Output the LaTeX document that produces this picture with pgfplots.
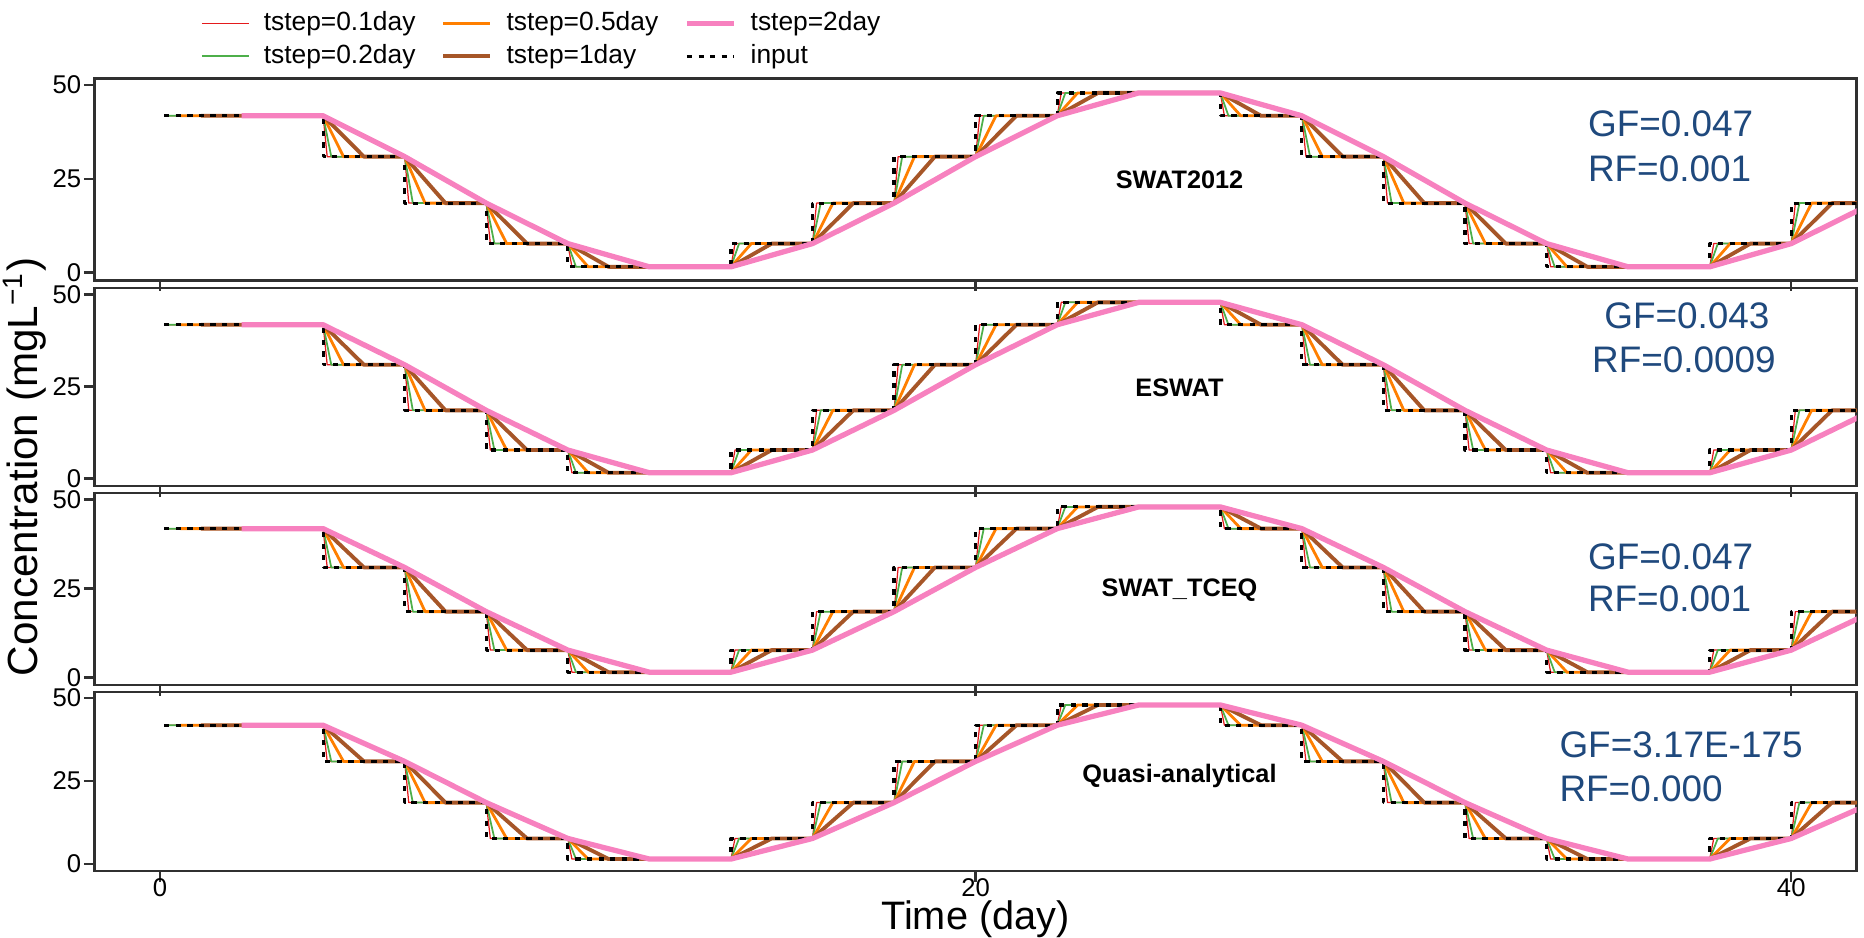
\documentclass[border=0pt]{standalone}
\usepackage{pgfplots}
\pgfplotsset{compat=1.18}
\usepackage{pgfplotstable}
\usepackage{fontspec}
\setmainfont{Liberation Sans}
\definecolor{cRed}{HTML}{E41A1C}
\definecolor{cGreen}{HTML}{4DAF4A}
\definecolor{cOrange}{HTML}{FF7F00}
\definecolor{cBrown}{HTML}{A65628}
\definecolor{cPink}{HTML}{F781BF}
\definecolor{cBlue}{HTML}{1F497D}
\definecolor{frm}{HTML}{303030}

\pgfplotstableread{
t c
0.1 41.8
4 41.8
4 30.9
6 30.9
6 18.5
8 18.5
8 7.7
10 7.7
10 1.5
14 1.5
14 7.7
16 7.7
16 18.5
18 18.5
18 30.9
20 30.9
20 41.8
22 41.8
22 47.9
26 47.9
26 41.8
28 41.8
28 30.9
30 30.9
30 18.5
32 18.5
32 7.7
34 7.7
34 1.5
38 1.5
38 7.7
40 7.7
40 18.5
41.6 18.5
}\tinput

\pgfplotstableread{
t c
0.1 41.8
4 41.8
4.1 30.9
6 30.9
6.1 18.5
8 18.5
8.1 7.7
10 7.7
10.1 1.5
14 1.5
14.1 7.7
16 7.7
16.1 18.5
18 18.5
18.1 30.9
20 30.9
20.1 41.8
22 41.8
22.1 47.9
26 47.9
26.1 41.8
28 41.8
28.1 30.9
30 30.9
30.1 18.5
32 18.5
32.1 7.7
34 7.7
34.1 1.5
38 1.5
38.1 7.7
40 7.7
40.1 18.5
41.6 18.5
}\tA

\pgfplotstableread{
t c
0.2 41.8
4 41.8
4.2 30.9
6 30.9
6.2 18.5
8 18.5
8.2 7.7
10 7.7
10.2 1.5
14 1.5
14.2 7.7
16 7.7
16.2 18.5
18 18.5
18.2 30.9
20 30.9
20.2 41.8
22 41.8
22.2 47.9
26 47.9
26.2 41.8
28 41.8
28.2 30.9
30 30.9
30.2 18.5
32 18.5
32.2 7.7
34 7.7
34.2 1.5
38 1.5
38.2 7.7
40 7.7
40.2 18.5
41.6 18.5
}\tB

\pgfplotstableread{
t c
0.5 41.8
4 41.8
4.5 30.9
6 30.9
6.5 18.5
8 18.5
8.5 7.7
10 7.7
10.5 1.5
14 1.5
14.5 7.7
16 7.7
16.5 18.5
18 18.5
18.5 30.9
20 30.9
20.5 41.8
22 41.8
22.5 47.9
26 47.9
26.5 41.8
28 41.8
28.5 30.9
30 30.9
30.5 18.5
32 18.5
32.5 7.7
34 7.7
34.5 1.5
38 1.5
38.5 7.7
40 7.7
40.5 18.5
41.6 18.5
}\tC

\pgfplotstableread{
t c
1 41.8
4 41.8
5 30.9
6 30.9
7 18.5
8 18.5
9 7.7
10 7.7
11 1.5
14 1.5
15 7.7
16 7.7
17 18.5
18 18.5
19 30.9
20 30.9
21 41.8
22 41.8
23 47.9
26 47.9
27 41.8
28 41.8
29 30.9
30 30.9
31 18.5
32 18.5
33 7.7
34 7.7
35 1.5
38 1.5
39 7.7
40 7.7
41 18.5
41.6 18.5
}\tD

\pgfplotstableread{
t c
2 41.8
4 41.8
6 30.9
8 18.5
10 7.7
12 1.5
14 1.5
16 7.7
18 18.5
20 30.9
22 41.8
24 47.9
26 47.9
28 41.8
30 30.9
32 18.5
34 7.7
36 1.5
38 1.5
40 7.7
42 18.5
}\tE

\pgfplotsset{
  sA/.style={cRed, line width=0.35pt},
  sB/.style={cGreen, line width=0.5pt},
  sC/.style={cOrange, line width=0.8pt},
  sD/.style={cBrown, line width=1.1pt},
  sE/.style={cPink, line width=1.5pt},
  sI/.style={black, line width=0.9pt, dash pattern=on 1.5pt off 1.8pt},
  panel/.style={
    scale only axis, width=176.2mm, anchor=north west,
    xmin=-1.606, xmax=41.6, ymin=-2.1, ymax=51.8,
    xtick={0,20,40}, ytick={0,25,50},
    xtick pos=left, ytick pos=left,
    tick align=outside, major tick length=1.05mm,
    axis line style={frm, line width=0.8pt},
    every tick/.style={frm, line width=0.7pt},
    tick label style={font=\fontsize{7.3}{8}\selectfont},
    yticklabel style={inner xsep=0.6pt},
    xticklabel style={inner ysep=0.5pt, yshift=0.5mm},
    /pgf/number format/assume math mode=true,
    every axis plot/.append style={line join=round, line cap=butt},
  },
}
\tikzset{
  lbl/.style={font=\bfseries\fontsize{7.2}{8}\selectfont, anchor=center},
  gf/.style={text=cBlue, font=\fontsize{10.5}{12}\selectfont, anchor=base west, inner sep=0pt},
}

\newcommand{\allseries}{%
  \addplot[sA] table[x=t,y=c]{\tA};
  \addplot[sB] table[x=t,y=c]{\tB};
  \addplot[sC] table[x=t,y=c]{\tC};
  \addplot[sD] table[x=t,y=c]{\tD};
  \addplot[sI] table[x=t,y=c]{\tinput};
  \addplot[sE] table[x=t,y=c]{\tE};
}

\begin{document}
\begin{tikzpicture}
\useasboundingbox (0mm,-93.7mm) rectangle (186.4mm,0mm);

% Panel 1
\begin{axis}[panel, at={(9.45mm,-7.83mm)}, height=20.2mm, xticklabels={},
  legend columns=3,
  legend style={at={(axis description cs:0.054,1.38)}, anchor=north west, draw=none, fill=none,
    font=\fontsize{7.5}{8.5}\selectfont, row sep=0.4mm,
    cells={anchor=west},
    /tikz/every odd column/.append style={column sep=1.2mm},
    /tikz/every even column/.append style={column sep=2.4mm},
    nodes={inner sep=0.6pt}},
  legend image code/.code={\draw[#1] (0mm,0mm) -- (4.7mm,0mm);},
]
\addlegendimage{sA}\addlegendentry{tstep=0.1day}
\addlegendimage{sC}\addlegendentry{tstep=0.5day}
\addlegendimage{sE}\addlegendentry{tstep=2day}
\addlegendimage{sB}\addlegendentry{tstep=0.2day}
\addlegendimage{sD}\addlegendentry{tstep=1day}
\addlegendimage{sI}\addlegendentry{input}
\pgfplotsset{every axis plot/.append style={forget plot}}
\allseries
\node[lbl] at (axis cs:25,24.6) {SWAT2012};
\node[gf] at (axis cs:35,36.2) {GF=0.047};
\node[gf] at (axis cs:35,24.2) {RF=0.001};
\end{axis}

% Panel 2
\begin{axis}[panel, at={(9.45mm,-28.8mm)}, height=19.8mm, xticklabels={}]
\allseries
\node[lbl] at (axis cs:25,24.6) {ESWAT};
\node[gf] at (axis cs:35.4,40.9) {GF=0.043};
\node[gf] at (axis cs:35.1,28.7) {RF=0.0009};
\end{axis}

% Panel 3
\begin{axis}[panel, at={(9.45mm,-49.3mm)}, height=19.2mm, xticklabels={}]
\allseries
\node[lbl] at (axis cs:25,24.6) {SWAT\_TCEQ};
\node[gf] at (axis cs:35,30.3) {GF=0.047};
\node[gf] at (axis cs:35,18.4) {RF=0.001};
\end{axis}

% Panel 4
\begin{axis}[panel, at={(9.45mm,-69.2mm)}, height=17.9mm,
  xlabel={Time (day)},
  xlabel style={font=\fontsize{11.3}{13}\selectfont, inner sep=0pt,
    at={(axis description cs:0.5,0)}, anchor=center, yshift=-4.8mm}]
\allseries
\node[lbl] at (axis cs:25,26.5) {Quasi-analytical};
\node[gf] at (axis cs:34.3,32.1) {GF=3.17E-175};
\node[gf] at (axis cs:34.3,18.8) {RF=0.000};
\end{axis}

\node[rotate=90, font=\fontsize{12}{14}\selectfont, inner sep=0pt] at (2.5mm,-46.7mm) {Concentration (mgL\textsuperscript{−1})};
\end{tikzpicture}
\end{document}
